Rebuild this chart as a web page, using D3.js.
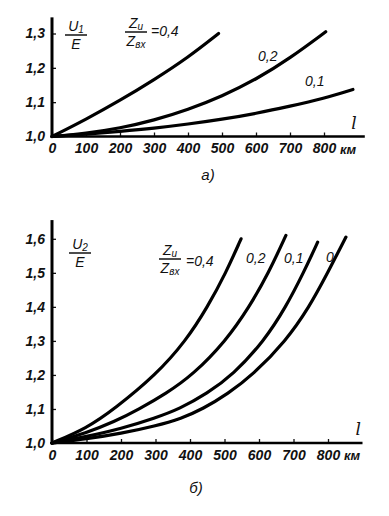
<!doctype html>
<html>
<head>
<meta charset="utf-8">
<script src="https://d3js.org/d3.v7.min.js"></script>
<style>
  body { margin: 0; background: #fff; }
  svg text { font-family: "Liberation Sans", "DejaVu Sans", sans-serif; font-style: italic; fill: #111; }
</style>
</head>
<body>
<div id="chart"></div>
<script>
// km ticks shared by both panels
var kmTicks = [0, 100, 200, 300, 400, 500, 600, 700, 800];

// panel a) : U1/E vs l, for Zн/Zвх = 0.4, 0.2, 0.1
var topTicks = [1.0, 1.1, 1.2, 1.3];
var topNames = ["0,4", "0,2", "0,1"];
var top04 = [[0, 1.0], [100, 1.05], [200, 1.105], [300, 1.165], [400, 1.23], [490, 1.30]];
var top02 = [[0, 1.0], [100, 1.009], [200, 1.024], [300, 1.047], [400, 1.078], [500, 1.117], [600, 1.166], [700, 1.228], [805, 1.305]];
var top01 = [[0, 1.0], [100, 1.007], [200, 1.015], [300, 1.024], [400, 1.036], [500, 1.05], [600, 1.067], [700, 1.088], [800, 1.111], [885, 1.137]];

// panel б) : U2/E vs l, for Zн/Zвх = 0.4, 0.2, 0.1, 0
var botTicks = [1.0, 1.1, 1.2, 1.3, 1.4, 1.5, 1.6];
var botNames = ["0,4", "0,2", "0,1", "0"];
var bot04 = [[0, 1.0], [100, 1.043], [181, 1.1], [301, 1.2], [388, 1.3], [451, 1.4], [504, 1.5], [548, 1.6]];
var bot02 = [[0, 1.0], [100, 1.03], [180, 1.062], [253, 1.1], [330, 1.145], [408, 1.2], [504, 1.3], [572, 1.4], [628, 1.5], [678, 1.61]];
var bot01 = [[0, 1.0], [100, 1.019], [200, 1.042], [300, 1.074], [369, 1.1], [450, 1.146], [524, 1.2], [615, 1.3], [678, 1.4], [729, 1.5], [770, 1.59]];
var bot00 = [[0, 1.0], [100, 1.012], [200, 1.028], [300, 1.05], [375, 1.072], [437, 1.1], [510, 1.145], [582, 1.2], [678, 1.3], [746, 1.4], [799, 1.5], [852, 1.605]];

var svg = d3.select("#chart").append("svg")
    .attr("width", 389)
    .attr("height", 516);

var comma = function (d) { return d3.format(".1f")(d).replace(".", ","); };

function panel(opt) {
    var x = d3.scaleLinear().domain([0, 800]).range(opt.xr);
    var y = d3.scaleLinear().domain([opt.ticks[0], opt.ticks[opt.ticks.length - 1]]).range(opt.yr);
    var g = svg.append("g");

    // x axis, ticks pointing up
    var xa = g.append("g")
        .attr("transform", "translate(0," + y(1.0) + ")")
        .call(d3.axisBottom(x).tickValues(kmTicks).tickSizeInner(-4).tickSizeOuter(0).tickPadding(7)
            .tickFormat(d3.format("d")));
    xa.select(".domain").remove();
    xa.selectAll("line").attr("stroke", "#111").attr("stroke-width", 1.3);
    xa.selectAll("text").style("font-size", "14px").style("font-weight", "bold").attr("fill", "#111");

    // y axis, ticks pointing right
    var ya = g.append("g")
        .attr("transform", "translate(" + x(0) + ",0)")
        .call(d3.axisLeft(y).tickValues(opt.ticks).tickSizeInner(-4).tickSizeOuter(0).tickPadding(7)
            .tickFormat(comma));
    ya.select(".domain").remove();
    ya.selectAll("line").attr("stroke", "#111").attr("stroke-width", 1.3);
    ya.selectAll("text").style("font-size", "14px").style("font-weight", "bold").attr("fill", "#111");

    // heavy axis lines
    g.append("line").attr("x1", x(0)).attr("x2", x(opt.xEnd))
        .attr("y1", y(1.0)).attr("y2", y(1.0))
        .attr("stroke", "#000").attr("stroke-width", 2.6);
    g.append("line").attr("x1", x(0)).attr("x2", x(0))
        .attr("y1", y(1.0) + 1.3).attr("y2", y(opt.yEnd))
        .attr("stroke", "#000").attr("stroke-width", 3);

    // curves
    var line = d3.line()
        .x(function (d) { return x(d[0]); })
        .y(function (d) { return y(d[1]); })
        .curve(d3.curveBasis);
    opt.series.forEach(function (s) {
        g.append("path").datum(s)
            .attr("d", line)
            .attr("fill", "none")
            .attr("stroke", "#000")
            .attr("stroke-width", 3.2)
            .attr("stroke-linecap", "round");
    });

    // "км" unit and "l"
    g.append("text").attr("x", x(800) + 16).attr("y", y(1.0) + 17)
        .style("font-size", "13px").style("font-weight", "bold").text("км");
    g.append("text").attr("x", x(880)).attr("y", y(1.0) - 8)
        .style("font-size", "17px").style("font-family", "DejaVu Serif").text("l");

    return { x: x, y: y, g: g };
}

function fraction(g, xc, top, num, sub, den, den2, size) {
    g.append("text").attr("x", xc).attr("y", top).attr("text-anchor", "middle")
        .style("font-size", size + "px").text(num).append("tspan")
        .attr("dy", 2).style("font-size", (size - 4) + "px").text(sub);
    g.append("line").attr("x1", xc - 11).attr("x2", xc + 11)
        .attr("y1", top + 4).attr("y2", top + 4).attr("stroke", "#000").attr("stroke-width", 1.4);
    g.append("text").attr("x", xc).attr("y", top + 18).attr("text-anchor", "middle")
        .style("font-size", size + "px").text(den).append("tspan")
        .attr("dy", 2).style("font-size", (size - 4) + "px").text(den2);
}

// panel a)
var pa = panel({
    xr: [52, 324], yr: [136.5, 33.5], ticks: topTicks, xEnd: 920, yEnd: 1.347,
    series: [top04, top02, top01]
});
fraction(pa.g, 76, 31, "U", "1", "E", "", 14);
fraction(pa.g, 136, 28, "Z", "и", "Z", "вх", 14);
pa.g.append("text").attr("x", 151).attr("y", 36).style("font-size", "14px").text("=" + topNames[0]);
pa.g.append("text").attr("x", 258).attr("y", 61).style("font-size", "14px").text(topNames[1]);
pa.g.append("text").attr("x", 305).attr("y", 86).style("font-size", "14px").text(topNames[2]);
pa.g.append("text").attr("x", 208).attr("y", 180).attr("text-anchor", "middle")
    .style("font-size", "15px").text("а)");

// panel б)
var pb = panel({
    xr: [52, 328], yr: [443, 238.8], ticks: botTicks, xEnd: 900, yEnd: 1.655,
    series: [bot04, bot02, bot01, bot00]
});
fraction(pb.g, 80, 249, "U", "2", "E", "", 14);
fraction(pb.g, 170, 255, "Z", "и", "Z", "вх", 14);
pb.g.append("text").attr("x", 186).attr("y", 266).style("font-size", "14px").text("=" + botNames[0]);
pb.g.append("text").attr("x", 246).attr("y", 263).style("font-size", "14px").text(botNames[1]);
pb.g.append("text").attr("x", 284).attr("y", 263).style("font-size", "14px").text(botNames[2]);
pb.g.append("text").attr("x", 326).attr("y", 262).style("font-size", "14px").text(botNames[3]);
pb.g.append("text").attr("x", 196).attr("y", 493).attr("text-anchor", "middle")
    .style("font-size", "15px").text("б)");
</script>
</body>
</html>
